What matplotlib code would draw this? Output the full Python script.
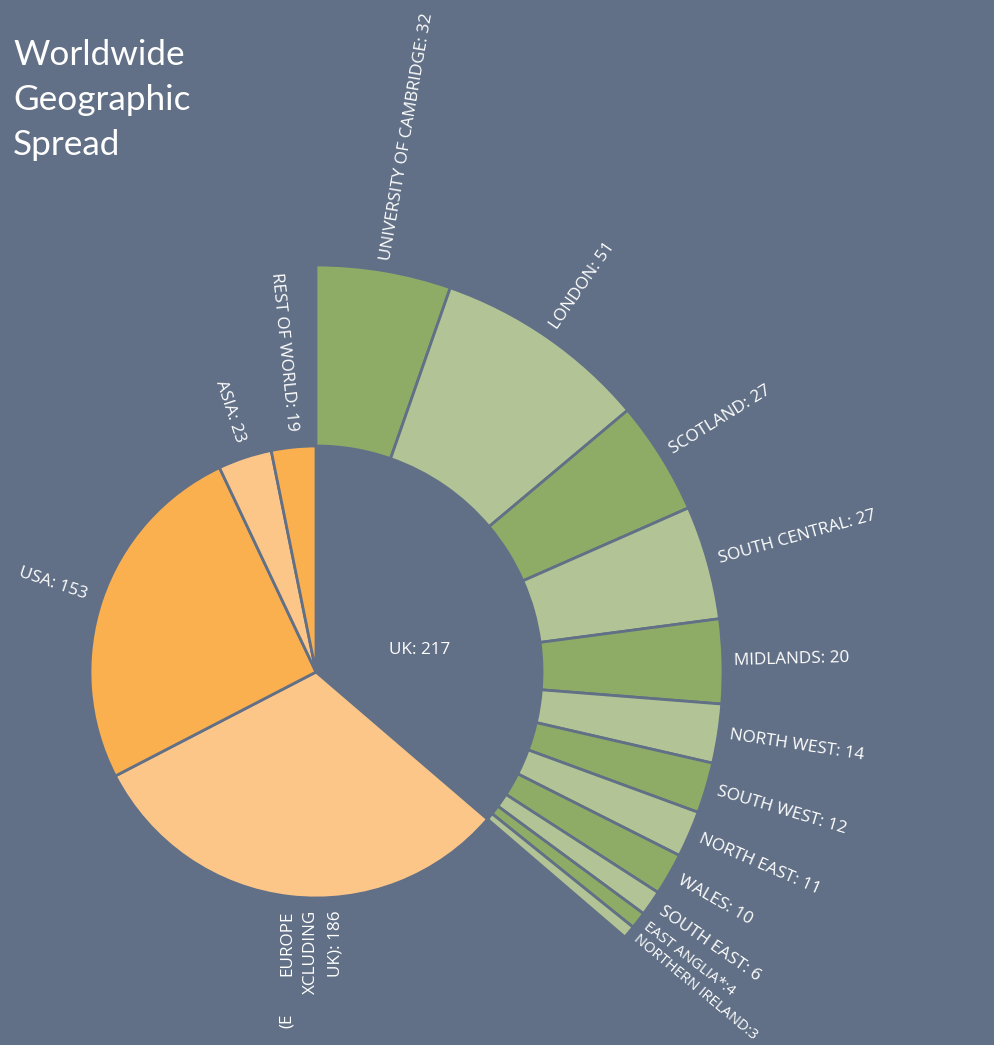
import numpy as np
import matplotlib.pyplot as plt

# inner ring: regions (UK drawn in background colour, split out in outer ring)
regions = ['UK', 'EUROPE (EXCLUDING UK)', 'USA', 'ASIA', 'REST OF WORLD']
region_vals = [217, 186, 153, 23, 19]

# outer ring: UK breakdown
uk_areas = ['UNIVERSITY OF CAMBRIDGE', 'LONDON', 'SCOTLAND', 'SOUTH CENTRAL', 'MIDLANDS',
            'NORTH WEST', 'SOUTH WEST', 'NORTH EAST', 'WALES', 'SOUTH EAST',
            'EAST ANGLIA*', 'NORTHERN IRELAND']
uk_vals = [32, 51, 27, 27, 20, 14, 12, 11, 10, 6, 4, 3]

bg = '#617086'
green_dark = '#8fac67'
green_light = '#b2c495'
orange_dark = '#fbb050'
orange_light = '#fdc689'

W, H = 995, 1045
fig = plt.figure(figsize=(W / 100, H / 100), dpi=100, facecolor=bg)
ax = fig.add_axes([0, 0, 1, 1])
ax.set_facecolor(bg)

cx, cy = 316, H - 672
r_in = 226
r_out = 407
total = sum(region_vals)

inner_colors = [bg, orange_light, orange_dark, orange_light, orange_dark]
inner, _ = ax.pie(region_vals, radius=r_in, center=(cx, cy), startangle=90,
                  counterclock=False, colors=inner_colors,
                  wedgeprops=dict(edgecolor=bg, linewidth=2))

outer_colors = [green_dark if i % 2 == 0 else green_light for i in range(len(uk_vals))]
outer, _ = ax.pie([v / total for v in uk_vals], normalize=False, radius=r_out,
                  center=(cx, cy), startangle=90, counterclock=False,
                  colors=outer_colors,
                  wedgeprops=dict(width=r_out - r_in, edgecolor=bg, linewidth=2))

ax.set_xlim(0, W)
ax.set_ylim(0, H)
ax.set_aspect('equal')
ax.axis('off')

fs = 12.3
fam = ['Open Sans', 'DejaVu Sans']
lab = dict(color='white', family=fam, rotation_mode='anchor', va='center')

# outer labels, reading outward
for w, name, v in zip(outer, uk_areas, uk_vals):
    mid = (w.theta1 + w.theta2) / 2
    a = np.deg2rad(mid)
    tight = name in ('EAST ANGLIA*', 'NORTHERN IRELAND')
    sep = ':' if tight else ': '
    r = 415 if tight else 418
    ax.text(cx + r * np.cos(a), cy + r * np.sin(a), f'{name}{sep}{v}',
            rotation=mid, ha='left', fontsize=10.6 if tight else fs, **lab)

# inner labels on the left side, ending at the ring
for w, name, v in zip(inner[2:], regions[2:], region_vals[2:]):
    mid = (w.theta1 + w.theta2) / 2
    a = np.deg2rad(mid)
    ax.text(cx + 242 * np.cos(a), cy + 242 * np.sin(a), f'{name}: {v}',
            rotation=mid - 180, ha='right', fontsize=fs, **lab)

# Europe label (wrapped oddly in the original)
ax.text(cx - 29, cy - 238, 'EUROPE', rotation=90, ha='right', fontsize=fs, **lab)
ax.text(cx - 5, cy - 238, 'XCLUDING', rotation=90, ha='right', fontsize=fs, **lab)
ax.text(cx + 20, cy - 238, f'UK): {region_vals[1]}', rotation=90, ha='right',
        fontsize=fs, **lab)
ax.text(cx - 29, cy - 341, '(E', rotation=90, ha='right', fontsize=fs, **lab)

ax.text(cx + 104, cy + 22, f'UK: {region_vals[0]}', ha='center', va='center',
        color='white', fontsize=fs, family=fam)

ax.text(13, H - 39, 'Worldwide\nGeographic\nSpread', ha='left', va='top',
        color='white', fontsize=25.3, linespacing=1.5, family=['Lato', 'DejaVu Sans'])

fig.savefig('out.png', dpi=100, facecolor=bg)
